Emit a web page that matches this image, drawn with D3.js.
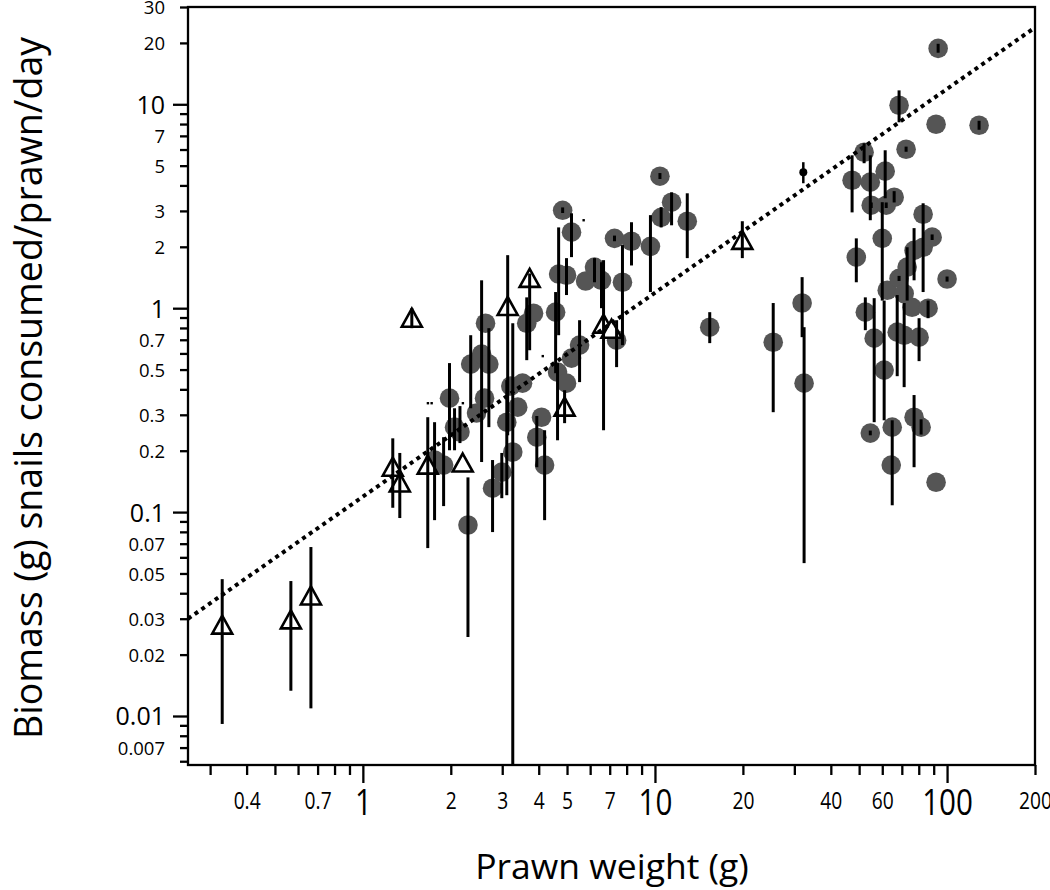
<!DOCTYPE html>
<html><head><meta charset="utf-8">
<script src="https://cdn.jsdelivr.net/npm/d3@7"></script>
<style>body{margin:0;background:#fff} svg{display:block}</style>
</head><body>
<svg id="c" width="1050" height="890"></svg>
<script>
// ---------- data ----------
const xDomain = [0.252, 200];
const yDomain = [0.00575, 30];

const xTicks = [0.3,0.4,0.5,0.6,0.7,0.8,0.9,1,2,3,4,5,6,7,8,9,10,20,30,40,50,60,70,80,90,100,200];
const xLabels = [0.4,0.7,1,2,3,4,5,7,10,20,40,60,100,200];
const xMajor = [1,10,100];

const yTicks = [0.006,0.007,0.008,0.009,0.01,0.02,0.03,0.04,0.05,0.06,0.07,0.08,0.09,0.1,0.2,0.3,0.4,0.5,0.6,0.7,0.8,0.9,1,2,3,4,5,6,7,8,9,10,20,30];
const yLabels = [0.007,0.01,0.02,0.03,0.05,0.07,0.1,0.2,0.3,0.5,0.7,1,2,3,5,7,10,20,30];
const yMajor = [0.01,0.1,1,10];

const xTitle = "Prawn weight (g)";
const yTitle = "Biomass (g) snails consumed/prawn/day";

// regression: biomass = regA * weight^regB
const regA = 0.119, regB = 1.0;

// filled grey circles
const circleWeight = [1.98,2.06,2.15,1.76,1.89,2.29,2.34,2.45,2.55,2.63,2.61,2.70,2.78,2.99,3.11,3.21,3.26,3.39,3.52,3.64,3.84,3.94,4.09,4.19,4.57,4.68,4.64,4.83,4.98,4.98,5.18,5.18,5.52,5.79,6.21,6.56,7.27,7.39,7.74,8.31,9.65,10.4,10.5,11.4,12.9,15.4,25.4,31.9,32.4,47.3,48.9,52.0,52.5,54.6,55.0,54.6,56.3,60.0,60.9,61.4,61.9,62.4,64.9,64.4,65.9,67.5,68.5,68.5,71.3,71.3,72.4,73.0,75.9,77.1,77.1,80.2,81.5,82.8,82.8,86.1,88.9,91.7,91.7,93.2,100,128.7];
const circleBiomass = [0.362,0.261,0.247,0.180,0.170,0.0864,0.532,0.306,0.595,0.844,0.362,0.532,0.131,0.157,0.276,0.415,0.197,0.327,0.429,0.844,0.945,0.233,0.292,0.170,0.956,1.47,0.486,3.02,1.45,0.429,2.36,0.569,0.659,1.36,1.59,1.37,2.20,0.697,1.34,2.13,2.01,4.44,2.79,3.31,2.67,0.807,0.681,1.06,0.429,4.24,1.78,5.82,0.956,4.15,3.20,0.244,0.713,2.20,0.497,4.70,3.20,1.225,0.261,0.170,3.50,0.763,9.89,1.40,1.18,0.737,6.02,1.59,1.01,1.92,0.292,0.721,0.261,2.89,1.99,1.00,2.23,7.98,0.140,18.8,1.39,7.89];
const circleLow = [0.201,0.201,0.218,0.0913,0.107,0.0244,0.323,null,0.176,null,null,0.261,0.0798,0.117,0.121,null,0.004,null,null,0.556,null,0.166,null,0.0913,0.480,0.737,0.225,2.93,1.16,null,1.78,null,0.434,null,1.34,1.00,2.13,0.514,0.659,1.62,1.20,4.30,2.49,2.55,1.76,0.674,0.309,0.721,0.0562,2.95,1.34,5.14,0.780,2.70,3.10,0.238,0.276,1.09,0.282,3.46,3.10,null,0.108,null,3.30,0.464,8.16,1.36,null,0.410,5.85,1.09,null,1.37,0.166,0.550,0.240,1.20,null,0.893,2.16,null,null,17.9,1.35,7.5];
const circleHigh = [0.538,0.323,0.331,0.276,0.233,0.148,0.737,null,1.37,null,null,0.798,0.180,0.195,0.444,null,0.844,null,null,1.13,null,0.296,null,0.252,1.20,2.49,0.538,3.12,1.76,null,2.92,null,0.873,null,1.76,1.68,2.27,0.873,2.04,2.64,2.86,4.60,3.13,3.70,3.66,0.956,1.06,1.42,0.807,5.62,2.20,6.44,1.13,5.62,3.30,0.251,1.12,3.31,1.09,5.95,3.30,null,0.282,null,3.75,1.16,11.7,1.44,null,1.06,6.20,1.99,null,2.47,0.375,0.893,0.285,3.27,null,1.09,2.30,null,null,19.8,1.43,8.3];

// open triangles
const triWeight = [0.330,0.567,0.664,1.266,1.338,1.471,1.668,2.197,3.132,3.724,4.905,6.668,7.101,19.91];
const triBiomass = [0.0279,0.0296,0.0388,0.166,0.139,0.893,0.170,0.174,1.02,1.40,0.327,0.835,0.789,2.15];
const triLow = [0.00914,0.0133,0.0109,0.105,0.0935,0.798,0.0666,null,0.238,0.622,0.273,0.252,null,1.76];
const triHigh = [0.0469,0.0459,0.0674,0.230,0.195,1.00,0.292,null,1.82,1.48,0.396,1.72,null,2.67];

// small black dot
const dotWeight = [32.2];
const dotBiomass = [4.64];
const dotLow = [4.10];
const dotHigh = [5.20];

// tiny specks
const tinyWeight = [1.67,1.72,2.20,4.13,5.70];
const tinyBiomass = [0.342,0.342,0.342,0.582,2.70];

// ---------- drawing ----------
const svg = d3.select("#c");
const L = 188, R = 1035, T = 7, B = 765;
const FONT = "'Open Sans', 'Noto Sans', sans-serif";
const x = d3.scaleLog().domain(xDomain).range([L, R]);
const y = d3.scaleLog().domain(yDomain).range([B, T]);

svg.append("defs").append("clipPath").attr("id","plot")
  .append("rect").attr("x",L).attr("y",T).attr("width",R-L).attr("height",B-T);

const fmt = v => String(v);

// X axis
const gx = svg.append("g").attr("transform",`translate(0,${B})`)
  .call(d3.axisBottom(x).tickValues(xTicks).tickSize(10).tickSizeOuter(0)
    .tickFormat(d => xLabels.includes(d) ? fmt(d) : ""));
gx.select(".domain").remove();
gx.selectAll(".tick line").attr("stroke","#000").attr("stroke-width",2.3)
  .attr("y2", d => xMajor.includes(d) ? 18 : 10);
gx.selectAll(".tick text").attr("fill","#000").attr("font-family",FONT)
  .attr("dy",null)
  .attr("y", d => xMajor.includes(d) ? 50 : 44)
  .attr("transform","scale(0.8,1)")
  .attr("font-size", d => xMajor.includes(d) ? 37 : 24);

// Y axis
const gy = svg.append("g").attr("transform",`translate(${L},0)`)
  .call(d3.axisLeft(y).tickValues(yTicks).tickSize(8).tickSizeOuter(0)
    .tickFormat(d => yLabels.includes(d) ? fmt(d) : ""));
gy.select(".domain").remove();
gy.selectAll(".tick line").attr("stroke","#000").attr("stroke-width",2.3)
  .attr("x2", d => yMajor.includes(d) ? -15 : -8);
gy.selectAll(".tick text").attr("fill","#000").attr("font-family",FONT)
  .attr("x",-23).attr("dy","0.36em")
  .attr("font-size", d => yMajor.includes(d) ? 25 : 18.5);

// frame
svg.append("rect").attr("x",L).attr("y",T).attr("width",R-L).attr("height",B-T)
  .attr("fill","none").attr("stroke","#000").attr("stroke-width",2.3);

const plot = svg.append("g").attr("clip-path","url(#plot)");

// circles
const circles = circleWeight.map((w,i)=>({w, b:circleBiomass[i], lo:circleLow[i], hi:circleHigh[i]}));
plot.selectAll("circle.pt").data(circles).join("circle").attr("class","pt")
  .attr("cx",d=>x(d.w)).attr("cy",d=>y(d.b)).attr("r",9.8).attr("fill","#555");

// triangles
const tris = triWeight.map((w,i)=>({w, b:triBiomass[i], lo:triLow[i], hi:triHigh[i]}));
plot.selectAll("path.tri").data(tris).join("path").attr("class","tri")
  .attr("d","M0,-9.5L10,8.5L-10,8.5Z")
  .attr("transform",d=>`translate(${x(d.w)},${y(d.b)})`)
  .attr("fill","#fff").attr("stroke","#000").attr("stroke-width",2.6).attr("stroke-linejoin","miter");

// error bars
const bars = circles.concat(tris).filter(d=>d.lo!=null && d.hi!=null);
plot.selectAll("line.err").data(bars).join("line").attr("class","err")
  .attr("x1",d=>x(d.w)).attr("x2",d=>x(d.w))
  .attr("y1",d=>y(d.hi)).attr("y2",d=>y(d.lo))
  .attr("stroke","#000").attr("stroke-width",3);

// black dot
const dots = dotWeight.map((w,i)=>({w,b:dotBiomass[i],lo:dotLow[i],hi:dotHigh[i]}));
plot.selectAll("line.derr").data(dots).join("line").attr("class","derr")
  .attr("x1",d=>x(d.w)).attr("x2",d=>x(d.w)).attr("y1",d=>y(d.hi)).attr("y2",d=>y(d.lo))
  .attr("stroke","#000").attr("stroke-width",2.5);
plot.selectAll("circle.dot").data(dots).join("circle").attr("class","dot")
  .attr("cx",d=>x(d.w)).attr("cy",d=>y(d.b)).attr("r",4).attr("fill","#000");

// tiny specks
plot.selectAll("rect.tiny").data(tinyWeight.map((w,i)=>({w,b:tinyBiomass[i]}))).join("rect").attr("class","tiny")
  .attr("x",d=>x(d.w)-1.2).attr("y",d=>y(d.b)-1.2).attr("width",2.4).attr("height",2.4).attr("fill","#000");

// regression line (dotted)
const line = d3.line().x(d=>x(d)).y(d=>y(regA*Math.pow(d,regB)));
plot.append("path").datum(xDomain).attr("d",line)
  .attr("fill","none").attr("stroke","#000").attr("stroke-width",4).attr("stroke-dasharray","4 4.2");

// titles
svg.append("text").attr("x",612).attr("y",879).attr("text-anchor","middle")
  .attr("font-family",FONT).attr("font-size",35.5).attr("fill","#000").text(xTitle);
svg.append("text").attr("transform","translate(42,388) rotate(-90)").attr("text-anchor","middle")
  .attr("font-family",FONT).attr("font-size",37.5).attr("fill","#000").text(yTitle);
</script>
</body></html>
